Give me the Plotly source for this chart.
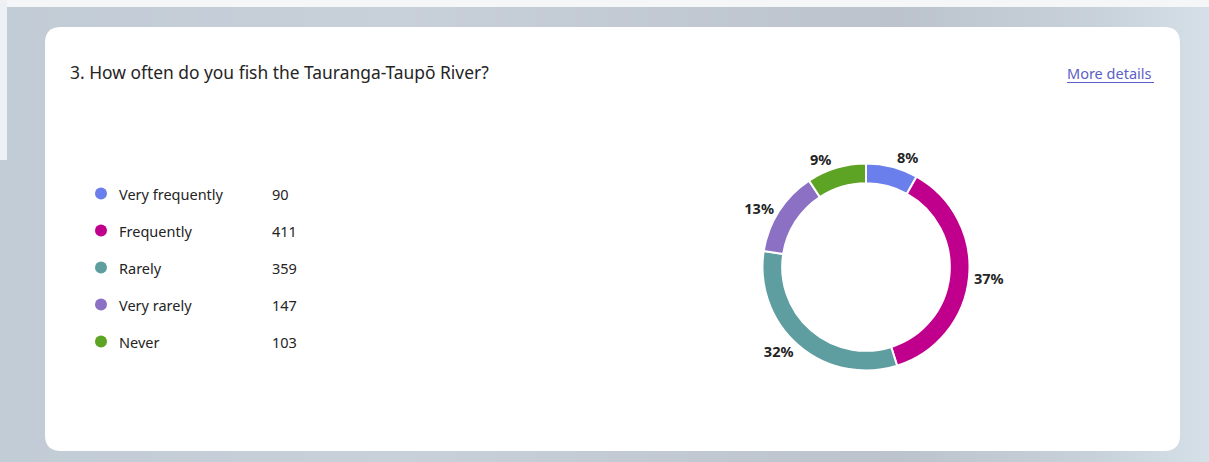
import plotly.graph_objects as go

W, H = 1209, 462

# ---- data ----
categories = ["Very frequently", "Frequently", "Rarely", "Very rarely", "Never"]
counts = [90, 411, 359, 147, 103]
colors = ["#6B7FEC", "#C0008C", "#5F9EA0", "#8C70C4", "#5DA324"]
title_text = "3. How often do you fish the Tauranga-Taupō River?"
link_text = "More details"

FONT = "Noto Sans, Open Sans, sans-serif"
TXT = "#242424"


def px(x):
    return x / W


def py(y):
    return 1 - y / H


shapes = []
# background gradient (horizontal) built from narrow strips
stops = [(0, (0xC2, 0xCC, 0xD6)), (400, (0xC8, 0xD0, 0xD9)), (900, (0xBC, 0xC3, 0xCC)),
         (1100, (0xC8, 0xD2, 0xDB)), (1209, (0xD6, 0xE0, 0xE8))]


def grad(x):
    for (x0, c0), (x1, c1) in zip(stops[:-1], stops[1:]):
        if x0 <= x <= x1:
            t = (x - x0) / (x1 - x0)
            return "rgb(%d,%d,%d)" % tuple(round(a + (b - a) * t) for a, b in zip(c0, c1))
    return "rgb(%d,%d,%d)" % stops[-1][1]


step = 8
for x0 in range(0, W, step):
    shapes.append(dict(type="rect", xref="paper", yref="paper", x0=px(x0), x1=px(min(W, x0 + step + 1)),
                       y0=0, y1=1, fillcolor=grad(x0 + step / 2), line=dict(width=0), layer="below"))
# light strips top / left
shapes.append(dict(type="rect", xref="paper", yref="paper", x0=0, x1=1, y0=py(7), y1=1,
                   fillcolor="#F4F6F8", line=dict(width=0), layer="below"))
shapes.append(dict(type="rect", xref="paper", yref="paper", x0=0, x1=px(7), y0=py(160), y1=1,
                   fillcolor="#EEF1F4", line=dict(width=0), layer="below"))

# white card with rounded corners
L, T, R, B, r = 45, 27, 1180, 451, 16
path = (f"M {px(L + r)},{py(T)} L {px(R - r)},{py(T)} Q {px(R)},{py(T)} {px(R)},{py(T + r)} "
        f"L {px(R)},{py(B - r)} Q {px(R)},{py(B)} {px(R - r)},{py(B)} "
        f"L {px(L + r)},{py(B)} Q {px(L)},{py(B)} {px(L)},{py(B - r)} "
        f"L {px(L)},{py(T + r)} Q {px(L)},{py(T)} {px(L + r)},{py(T)} Z")
shapes.append(dict(type="path", xref="paper", yref="paper", path=path, fillcolor="#FFFFFF",
                   line=dict(width=0), layer="below"))
# underline of link
shapes.append(dict(type="line", xref="paper", yref="paper", x0=px(1067), x1=px(1154), y0=py(82.5), y1=py(82.5),
                   line=dict(color="#5B5FC7", width=1.2)))

fig = go.Figure()

# donut
cx, cy, half = 866, 267, 103.5
fig.add_trace(go.Pie(
    labels=categories, values=counts, hole=0.81, sort=False, direction="clockwise", rotation=0,
    marker=dict(colors=colors, line=dict(color="#FFFFFF", width=2)),
    textinfo="percent", textposition="outside", texttemplate="%{percent:.0%}",
    textfont=dict(family=FONT, size=14.5, color=TXT, weight="bold"),
    domain=dict(x=[px(cx - half), px(cx + half)], y=[py(cy + half), py(cy - half)]),
    showlegend=False, hoverinfo="label+value+percent",
))

# legend as scatter markers on a hidden axis
rows = list(range(len(categories)))
fig.add_trace(go.Scatter(
    x=[0] * len(categories), y=rows, mode="markers",
    marker=dict(color=colors, size=12, line=dict(width=0)),
    showlegend=False, hoverinfo="skip", xaxis="x", yaxis="y",
))

annotations = []
for i, (cat, cnt) in enumerate(zip(categories, counts)):
    annotations.append(dict(x=16, y=i, xref="x", yref="y", text=cat, showarrow=False, xanchor="left",
                            yanchor="middle", font=dict(family=FONT, size=14.5, color=TXT)))
    annotations.append(dict(x=169, y=i, xref="x", yref="y", text=str(cnt), showarrow=False, xanchor="left",
                            yanchor="middle", font=dict(family=FONT, size=14.5, color=TXT)))

annotations.append(dict(x=px(68), y=py(72), xref="paper", yref="paper", text=title_text, showarrow=False,
                        xanchor="left", yanchor="middle", font=dict(family=FONT, size=17.4, color=TXT)))
annotations.append(dict(x=px(1154), y=py(73), xref="paper", yref="paper", text=link_text, showarrow=False,
                        xanchor="right", yanchor="middle", font=dict(family=FONT, size=14.5, color="#5B5FC7")))

fig.update_layout(
    width=W, height=H, margin=dict(l=0, r=0, t=0, b=0),
    paper_bgcolor="#C6CED8", plot_bgcolor="rgba(0,0,0,0)",
    shapes=shapes, annotations=annotations,
    xaxis=dict(domain=[px(101 - 10), px(101 + 210)], range=[-10, 210], visible=False, fixedrange=True),
    yaxis=dict(domain=[py(360), py(175)], range=[4.5, -0.5], visible=False, fixedrange=True),
    font=dict(family=FONT),
)

fig.write_html("out.html")
